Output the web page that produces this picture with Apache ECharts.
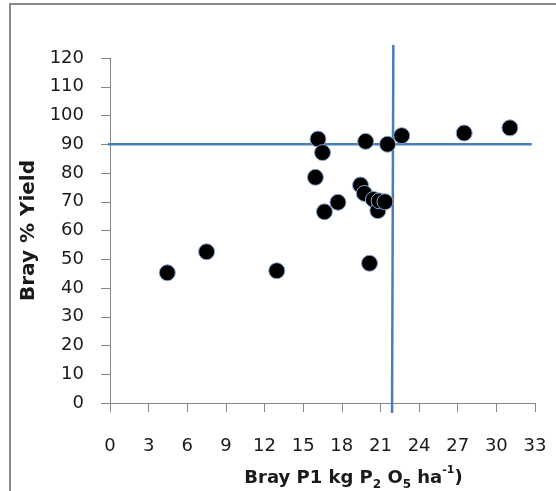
<!DOCTYPE html>
<html>
<head>
<meta charset="utf-8">
<script src="https://cdn.jsdelivr.net/npm/echarts@6/dist/echarts.min.js"></script>
<style>
  html, body { margin: 0; padding: 0; background: #fff; }
  #wrap { position: relative; width: 556px; height: 491px; overflow: hidden; }
  #chart { width: 556px; height: 491px; }
  /* gray frame of the pasted chart, only left and top edges are visible */
  #frame {
    position: absolute; left: 9px; top: 3px; width: 600px; height: 600px;
    border-left: 2px solid #8a8a8a; border-top: 2px solid #8a8a8a;
    pointer-events: none;
  }
</style>
</head>
<body>
<div id="wrap">
  <div id="chart"></div>
  <div id="frame"></div>
</div>
<script>
  // Bray P1 (kg P2O5/ha) vs relative yield (%)
  var brayP = [4.45, 7.5, 12.95, 15.95, 16.15, 16.5, 16.65, 17.7, 19.45, 19.75,
               19.85, 20.15, 20.45, 20.8, 20.9, 21.35, 21.55, 22.65, 27.5, 31.05];
  var yieldPct = [45.3, 52.6, 46.0, 78.5, 91.8, 87.1, 66.5, 69.8, 75.8, 72.9,
                  91.0, 48.6, 70.8, 66.9, 70.3, 70.0, 90.0, 93.0, 93.9, 95.7];
  var xTicks = [0, 3, 6, 9, 12, 15, 18, 21, 24, 27, 30, 33];
  var yTicks = [0, 10, 20, 30, 40, 50, 60, 70, 80, 90, 100, 110, 120];
  // critical levels (Cate-Nelson style split), drawn a bit past the plot edges
  var critYieldLine = [[-0.55, 90], [32.75, 90]];
  var critPLine = [[22.0, 124.5], [21.9, -3.5]];

  var points = brayP.map(function (x, i) { return [x, yieldPct[i]]; });

  var font = 'DejaVu Sans';
  var axisGray = '#868686';
  var lineBlue = '#4a7ebb';

  var myChart = echarts.init(document.getElementById('chart'), null, { renderer: 'canvas' });

  function critLine(data) {
    return {
      type: 'line',
      data: data,
      symbol: 'none',
      clip: false,
      silent: true,
      z: 1,
      lineStyle: { color: lineBlue, width: 2.5 }
    };
  }

  myChart.setOption({
    animation: false,
    backgroundColor: '#fff',
    grid: { left: 110, right: 21, top: 58, bottom: 88, containLabel: false, outerBoundsMode: 'none' },
    xAxis: {
      type: 'value',
      min: xTicks[0],
      max: xTicks[xTicks.length - 1],
      interval: 3,
      name: 'Bray P1 kg P{sub|2} O{sub|5} ha{sup|-1})',
      nameLocation: 'middle',
      nameGap: 62,
      nameTextStyle: {
        fontFamily: font, fontWeight: 'bold', fontSize: 18, color: '#1a1a1a',
        lineHeight: 26, padding: [0, 0, 0, 62],
        rich: {
          sub: { fontFamily: font, fontWeight: 'bold', fontSize: 12, color: '#1a1a1a', verticalAlign: 'bottom', lineHeight: 12 },
          sup: { fontFamily: font, fontWeight: 'bold', fontSize: 11, color: '#1a1a1a', verticalAlign: 'top', lineHeight: 11 }
        }
      },
      splitLine: { show: false },
      axisLine: { onZero: false, lineStyle: { color: axisGray, width: 1 } },
      axisTick: { show: true, inside: false, length: 9, lineStyle: { color: axisGray } },
      axisLabel: { margin: 34, fontFamily: font, fontSize: 18, color: '#1a1a1a' }
    },
    yAxis: {
      type: 'value',
      min: yTicks[0],
      max: yTicks[yTicks.length - 1],
      interval: 10,
      name: 'Bray % Yield',
      nameLocation: 'middle',
      nameRotate: 90,
      nameGap: 68,
      nameTextStyle: { fontFamily: font, fontWeight: 'bold', fontSize: 20, color: '#1a1a1a' },
      splitLine: { show: false },
      axisLine: { show: true, onZero: false, lineStyle: { color: axisGray, width: 1 } },
      axisTick: { show: true, inside: false, length: 9, lineStyle: { color: axisGray } },
      axisLabel: { margin: 26, fontFamily: font, fontSize: 18, color: '#1a1a1a' }
    },
    series: [
      critLine(critYieldLine),
      critLine(critPLine),
      {
        type: 'scatter',
        data: points,
        symbol: 'circle',
        symbolSize: 16,
        z: 3,
        itemStyle: { color: '#000', opacity: 1, borderColor: '#8aa6d0', borderWidth: 1 }
      }
    ]
  });
</script>
</body>
</html>
